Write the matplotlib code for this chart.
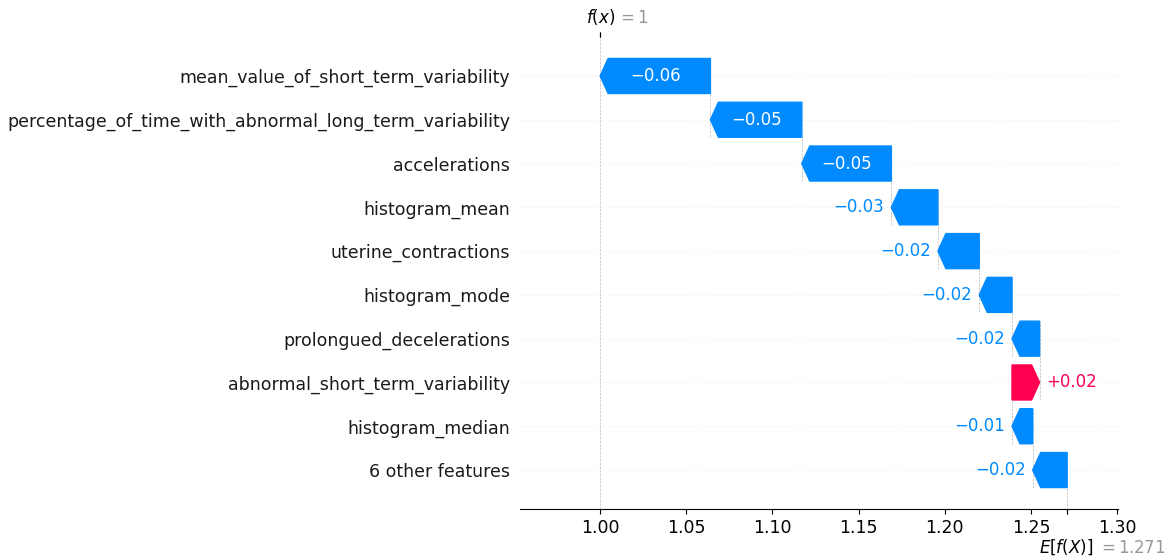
import numpy as np
import matplotlib
matplotlib.use("Agg")
import matplotlib.pyplot as plt
import matplotlib.transforms as mtransforms

# SHAP contributions, top row first
features = [
    "mean_value_of_short_term_variability",
    "percentage_of_time_with_abnormal_long_term_variability",
    "accelerations",
    "histogram_mean",
    "uterine_contractions",
    "histogram_mode",
    "prolongued_decelerations",
    "abnormal_short_term_variability",
    "histogram_median",
    "6 other features",
]
shap_values = [-0.064, -0.053, -0.052, -0.027, -0.024, -0.019, -0.016, 0.016, -0.012, -0.020]
base_value = 1.271
xlim = (0.9535, 1.3005)
xticks = [1.00, 1.05, 1.10, 1.15, 1.20, 1.25, 1.30]

red = (1.0, 0.0, 0.31796)
blue = (0.0, 0.5423, 1.0)

n = len(features)
fx = base_value + sum(shap_values)

fig = plt.figure(figsize=(11.69, 5.6), dpi=100)
ax = fig.add_axes([520 / 1169, 1 - 509 / 560, 598 / 1169, 472 / 560])
ax.set_xlim(*xlim)
ax.set_ylim(-0.89, n - 1 + 0.89)

bar_width = 0.8
head_length = 0.08
xlen = xlim[1] - xlim[0]
bbox = ax.get_window_extent().transformed(fig.dpi_scale_trans.inverted())
bbox_to_xscale = xlen / bbox.width
hl_scaled = bbox_to_xscale * head_length
renderer = fig.canvas.get_renderer()

def fmt(v):
    s = "%+0.02f" % v
    return s.replace("-", "\u2212")

# walk from the prediction at the top down to the base value
loc = fx
for i, (name, v) in enumerate(zip(features, shap_values)):
    y = n - 1 - i
    start = loc - v  # left edge for positive, right edge for negative
    if i < n - 1:
        ax.plot([start, start], [y - 1 - 0.4, y + 0.4], color="#bbbbbb",
                linestyle="--", linewidth=0.5, zorder=-1)
    dist = abs(v)
    if v >= 0:
        arr = ax.arrow(start, y, max(dist - hl_scaled, 1e-6), 0,
                       head_length=min(dist, hl_scaled), color=red,
                       width=bar_width, head_width=bar_width)
    else:
        arr = ax.arrow(start, y, -max(dist - hl_scaled, 1e-6), 0,
                       head_length=min(dist, hl_scaled), color=blue,
                       width=bar_width, head_width=bar_width)
    txt = ax.text(start + 0.5 * v, y, fmt(v), ha="center", va="center",
                  color="white", fontsize=12)
    tb = txt.get_window_extent(renderer=renderer)
    ab = arr.get_window_extent(renderer=renderer)
    if tb.width > ab.width:
        txt.remove()
        if v >= 0:
            ax.text(start + v + (5 / 72) * bbox_to_xscale, y, fmt(v), ha="left",
                    va="center", color=red, fontsize=12)
        else:
            ax.text(start + v - (5 / 72) * bbox_to_xscale, y, fmt(v), ha="right",
                    va="center", color=blue, fontsize=12)
    loc = start

ax.set_yticks(range(n))
ax.set_yticklabels(features[::-1], fontsize=12.5, color="#1a1a1a")
for i in range(n):
    ax.axhline(i, color="#cccccc", lw=0.5, dashes=(1, 5), zorder=-1)

ax.axvline(base_value, 0, 1 / n, color="#bbbbbb", linestyle="--", linewidth=0.5, zorder=-1)
ax.axvline(fx, 0, 1, color="#bbbbbb", linestyle="--", linewidth=0.5, zorder=-1)

ax.set_xticks(xticks)
ax.set_xticklabels(["%.2f" % t for t in xticks], fontsize=12.5)
ax.xaxis.set_ticks_position("bottom")
ax.yaxis.set_ticks_position("none")
for s in ("right", "top", "left"):
    ax.spines[s].set_visible(False)
ax.tick_params(axis="x", labelsize=12.5)

# E[f(X)] marker below the axis
ax2 = ax.twiny()
ax2.set_xlim(*xlim)
ax2.xaxis.set_ticks_position("bottom")
ax2.set_xticks([base_value, base_value + 1e-8])
ax2.set_xticklabels(["$E[f(X)]$", "$ = %s$" % ("%0.03f" % base_value).rstrip("0").rstrip(".")],
                    fontsize=12, ha="left")
ax2.tick_params(axis="x", pad=17)
for s in ("right", "top", "left", "bottom"):
    ax2.spines[s].set_visible(False)
labs = ax2.xaxis.get_majorticklabels()
labs[0].set_transform(labs[0].get_transform() + mtransforms.ScaledTranslation(-20 / 72., 0, fig.dpi_scale_trans))
labs[1].set_transform(labs[1].get_transform() + mtransforms.ScaledTranslation(22 / 72., -1 / 72., fig.dpi_scale_trans))
labs[1].set_color("#999999")

# f(x) marker above the axis
ax3 = ax2.twiny()
ax3.set_xlim(*xlim)
ax3.xaxis.set_ticks_position("top")
ax3.set_xticks([fx, fx + 1e-8])
fx_txt = ("%0.03f" % fx).rstrip("0").rstrip(".")
ax3.set_xticklabels(["$f(x)$", "$ = %s$" % fx_txt], fontsize=12, ha="left")
labs = ax3.xaxis.get_majorticklabels()
labs[0].set_transform(labs[0].get_transform() + mtransforms.ScaledTranslation(-10 / 72., 0, fig.dpi_scale_trans))
labs[1].set_transform(labs[1].get_transform() + mtransforms.ScaledTranslation(12 / 72., 0, fig.dpi_scale_trans))
labs[1].set_color("#999999")
for s in ("right", "top", "left", "bottom"):
    ax3.spines[s].set_visible(False)

fig.savefig("out.png", dpi=100)
